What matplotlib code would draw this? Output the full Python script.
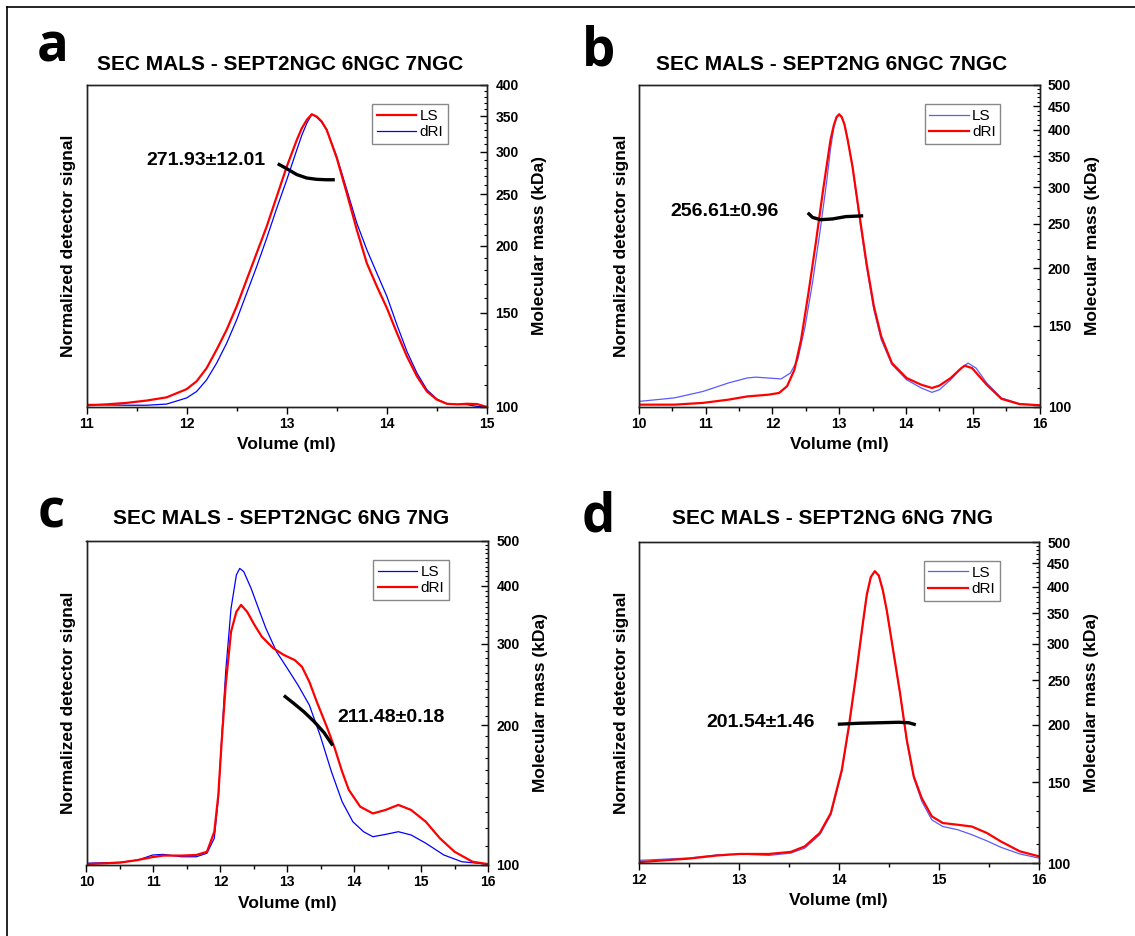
import numpy as np
import matplotlib
matplotlib.use("Agg")
from matplotlib import pyplot as plt
from matplotlib.lines import Line2D
from matplotlib.ticker import FixedLocator, NullFormatter

plt.rcParams['font.family'] = ['Liberation Sans', 'DejaVu Sans']

# -----------------------------------------------------------#
# SEC-MALS traces (normalized detector signal vs volume)
# -----------------------------------------------------------#

# a) SEPT2NGC 6NGC 7NGC
a_vol = [11.0, 11.2, 11.4, 11.6, 11.8, 12.0, 12.1, 12.2, 12.3, 12.4, 12.5, 12.6, 12.7,
         12.8, 12.9, 13.0, 13.1, 13.15, 13.2, 13.25, 13.3, 13.35, 13.4, 13.5, 13.6, 13.7, 13.8,
         13.9, 14.0, 14.1, 14.2, 14.3, 14.4, 14.5, 14.6, 14.7, 14.8, 14.9, 15.0]
a_ls = [0.006, 0.009, 0.014, 0.022, 0.033, 0.061, 0.088, 0.133, 0.196, 0.264, 0.344, 0.435, 0.526,
        0.617, 0.719, 0.821, 0.912, 0.952, 0.981, 1.0, 0.992, 0.975, 0.946, 0.850, 0.730, 0.605,
        0.491, 0.412, 0.338, 0.253, 0.173, 0.105, 0.053, 0.025, 0.011, 0.009, 0.011, 0.010, 0.0]
a_dri = [0.009, 0.007, 0.006, 0.006, 0.010, 0.031, 0.053, 0.093, 0.150, 0.218, 0.298, 0.389, 0.480,
         0.577, 0.679, 0.776, 0.878, 0.928, 0.969, 1.0, 0.990, 0.972, 0.946, 0.855, 0.742, 0.628,
         0.537, 0.457, 0.378, 0.281, 0.190, 0.116, 0.059, 0.027, 0.011, 0.009, 0.008, 0.002, 0.0]
a_mass_vol = [12.91, 13.0, 13.1, 13.2, 13.3, 13.4, 13.48]
a_mass = [285, 279, 272, 268, 266.5, 266, 266]

# b) SEPT2NG 6NGC 7NGC
b_ls_vol = [10.0, 10.53, 10.96, 11.34, 11.62, 11.75, 11.94, 12.13, 12.27, 12.38, 12.49, 12.6,
            12.71, 12.81, 12.87, 12.92, 12.96, 13.0, 13.04, 13.08, 13.13, 13.2, 13.3, 13.41,
            13.52, 13.63, 13.79, 14.01, 14.23, 14.39, 14.5, 14.67, 14.83, 14.93, 15.05, 15.21,
            15.43, 15.7, 16.0]
b_ls = [0.019, 0.031, 0.053, 0.082, 0.099, 0.102, 0.099, 0.096, 0.116, 0.162, 0.275, 0.423,
        0.594, 0.764, 0.880, 0.955, 0.988, 1.0, 0.99, 0.965, 0.91, 0.821, 0.651, 0.480,
        0.332, 0.230, 0.145, 0.093, 0.065, 0.050, 0.059, 0.093, 0.133, 0.150, 0.133, 0.082,
        0.031, 0.011, 0.006]
b_dri_vol = [10.0, 10.53, 10.96, 11.34, 11.62, 11.94, 12.1, 12.22, 12.33, 12.43, 12.54, 12.65,
             12.76, 12.87, 12.92, 12.96, 13.0, 13.04, 13.08, 13.13, 13.2, 13.3, 13.41, 13.52,
             13.63, 13.79, 14.01, 14.23, 14.39, 14.5, 14.67, 14.83, 14.88, 14.99, 15.21, 15.43,
             15.7, 16.0]
b_dri = [0.008, 0.008, 0.014, 0.025, 0.036, 0.042, 0.048, 0.071, 0.127, 0.230, 0.389, 0.560,
         0.742, 0.912, 0.962, 0.990, 1.0, 0.99, 0.965, 0.91, 0.821, 0.662, 0.491, 0.344,
         0.241, 0.150, 0.099, 0.076, 0.065, 0.073, 0.099, 0.133, 0.141, 0.133, 0.076, 0.028,
         0.010, 0.006]
b_mass_vol = [12.53, 12.6, 12.72, 12.9, 13.1, 13.36]
b_mass = [264, 258, 255, 256, 259, 260]

# c) SEPT2NGC 6NG 7NG
c_ls_vol = [10.0, 10.5, 10.77, 10.99, 11.15, 11.42, 11.64, 11.8, 11.91, 11.97, 12.02, 12.08,
            12.16, 12.24, 12.29, 12.35, 12.46, 12.57, 12.68, 12.84, 13.0, 13.16, 13.33, 13.49,
            13.66, 13.82, 13.98, 14.14, 14.28, 14.47, 14.66, 14.85, 15.07, 15.34, 15.61, 16.0]
c_ls = [0.006, 0.009, 0.017, 0.034, 0.036, 0.028, 0.028, 0.040, 0.091, 0.226, 0.430, 0.656,
        0.871, 0.985, 1.007, 0.996, 0.939, 0.871, 0.804, 0.724, 0.668, 0.611, 0.543, 0.441,
        0.317, 0.215, 0.147, 0.113, 0.096, 0.104, 0.113, 0.102, 0.074, 0.034, 0.011, 0.003]
c_dri_vol = [10.0, 10.5, 10.77, 10.99, 11.15, 11.42, 11.64, 11.8, 11.91, 11.97, 12.02, 12.08,
             12.16, 12.24, 12.31, 12.4, 12.51, 12.62, 12.79, 12.95, 13.11, 13.22, 13.33, 13.44,
             13.6, 13.71, 13.82, 13.92, 14.09, 14.28, 14.47, 14.66, 14.85, 15.07, 15.28, 15.5,
             15.77, 16.0]
c_dri = [0.003, 0.008, 0.017, 0.027, 0.032, 0.032, 0.034, 0.045, 0.113, 0.238, 0.419, 0.611,
         0.792, 0.860, 0.883, 0.860, 0.815, 0.775, 0.736, 0.713, 0.696, 0.673, 0.622, 0.555,
         0.464, 0.396, 0.317, 0.255, 0.198, 0.175, 0.187, 0.204, 0.187, 0.147, 0.091, 0.045,
         0.011, 0.003]
c_mass_vol = [12.95, 13.1, 13.25, 13.4, 13.55, 13.68]
c_mass = [232, 223, 214, 204, 193, 181]

# d) SEPT2NG 6NG 7NG
d_vol = [12.0, 12.5, 12.79, 13.01, 13.3, 13.52, 13.66, 13.81, 13.92, 14.03, 14.1, 14.17, 14.24,
         14.28, 14.32, 14.36, 14.40, 14.44, 14.48, 14.53, 14.61, 14.68, 14.75, 14.83, 14.93,
         15.04, 15.19, 15.33, 15.48, 15.62, 15.81, 16.0]
d_ls = [0.009, 0.017, 0.028, 0.031, 0.026, 0.034, 0.051, 0.097, 0.165, 0.313, 0.462, 0.633, 0.815,
        0.915, 0.978, 1.0, 0.985, 0.935, 0.865, 0.758, 0.587, 0.416, 0.291, 0.211, 0.148,
        0.125, 0.114, 0.097, 0.076, 0.054, 0.031, 0.017]
d_dri = [0.003, 0.015, 0.026, 0.031, 0.031, 0.038, 0.057, 0.103, 0.171, 0.319, 0.467, 0.638, 0.821,
         0.920, 0.980, 1.0, 0.985, 0.935, 0.865, 0.758, 0.587, 0.422, 0.296, 0.222, 0.160,
         0.137, 0.131, 0.125, 0.103, 0.074, 0.040, 0.023]
d_mass_vol = [13.99, 14.2, 14.4, 14.6, 14.7, 14.77]
d_mass = [200.5, 201.5, 202, 202.5, 202, 200]

RED = "#ff0000"
BLUE = "#0000ff"
LIGHTBLUE = "#5a5aff"


def panel(rect, letter, letter_xy, title, title_xy, xlim, xticks, mmax, mticks,
          traces, mass_vol, mass, mass_text, text_xy, text_ha):
    ax = fig.add_axes(rect)
    for vol, sig, color, lw, lab in traces:
        ax.plot(vol, sig, color=color, linewidth=lw, label=lab, solid_joinstyle='round')
    ax.set_xlim(xlim)
    ax.set_ylim(0, 1.1)
    ax.set_xticks(xticks)
    ax.set_xticks(np.arange(xlim[0] + 0.5, xlim[1], 1.0), minor=True)
    ax.set_yticks([])
    ax.tick_params(axis='x', which='major', direction='out', length=5, width=1, labelsize=10, pad=2)
    ax.tick_params(axis='x', which='minor', direction='out', length=3, width=1)
    for lbl in ax.get_xticklabels():
        lbl.set_fontweight('bold')
    ax.set_xlabel("Volume (ml)", fontsize=12.5, fontweight='bold', va='center')
    ax.xaxis.set_label_coords(0.5, -0.118)
    ax.set_ylabel("Normalized detector signal", fontsize=12.5, fontweight='bold', va='center')
    ax.yaxis.set_label_coords(-0.044, 0.5)
    for sp in ax.spines.values():
        sp.set_linewidth(1.0)
        sp.set_color("#222222")

    # handles in legend order: LS first
    handles, labels = ax.get_legend_handles_labels()
    order = [labels.index("LS"), labels.index("dRI")]
    leg = ax.legend([handles[i] for i in order], [labels[i] for i in order],
                    loc='upper right', bbox_to_anchor=(0.902, 0.94), fontsize=11,
                    fancybox=False, framealpha=1, edgecolor="#888888",
                    handlelength=2.6, handletextpad=0.2, borderpad=0.3, labelspacing=0.15,
                    borderaxespad=0)
    leg.get_frame().set_linewidth(1.0)

    # molecular mass on a log axis
    ax2 = ax.twinx()
    ax2.set_yscale('log')
    ax2.set_ylim(100, mmax)
    ax2.plot(mass_vol, mass, color='black', linewidth=2.4, solid_capstyle='butt',
             solid_joinstyle='round')
    ax2.yaxis.set_major_locator(FixedLocator(mticks))
    ax2.yaxis.set_minor_locator(FixedLocator(np.arange(100, mmax + 1, 10)))
    ax2.yaxis.set_minor_formatter(NullFormatter())
    ax2.set_yticklabels([str(t) for t in mticks], fontweight='bold', fontsize=10)
    ax2.tick_params(axis='y', which='major', direction='in', length=5, width=1, pad=6)
    ax2.tick_params(axis='y', which='minor', direction='in', length=2.5, width=0.8)
    ax2.set_ylabel("Molecular mass (kDa)", fontsize=12.5, fontweight='bold', va='center')
    ax2.yaxis.set_label_coords(1.132, 0.5)
    for sp in ax2.spines.values():
        sp.set_linewidth(1.0)
        sp.set_color("#222222")
    ax2.text(text_xy[0], text_xy[1], mass_text, transform=ax.transAxes, ha=text_ha,
             va='center', fontsize=14, fontweight='bold')

    fig.text(title_xy[0], title_xy[1], title, ha='center', va='center',
             fontsize=15, fontweight='bold')
    fig.text(letter_xy[0], letter_xy[1], letter, ha='left', va='baseline',
             fontsize=38, fontweight='bold', family=['Open Sans', 'DejaVu Sans'])
    return ax


fig = plt.figure(figsize=(11.35, 9.36), dpi=100)
W, H = 1135.0, 936.0

panel([86.5 / W, 1 - 407 / H, 400.5 / W, 322 / H], "a", (37 / W, 1 - 62 / H),
      "SEC MALS - SEPT2NGC 6NGC 7NGC", (280.5 / W, 1 - 64 / H),
      (11, 15), [11, 12, 13, 14, 15], 400, [100, 150, 200, 250, 300, 350, 400],
      [(a_vol, a_dri, BLUE, 0.9, "dRI"), (a_vol, a_ls, RED, 1.6, "LS")],
      a_mass_vol, a_mass, "271.93\u00b112.01", (0.446, 0.767), 'right')

panel([638.8 / W, 1 - 407 / H, 400.7 / W, 322 / H], "b", (582 / W, 1 - 66 / H),
      "SEC MALS - SEPT2NG 6NGC 7NGC", (832 / W, 1 - 64 / H),
      (10, 16), [10, 11, 12, 13, 14, 15, 16], 500,
      [100, 150, 200, 250, 300, 350, 400, 450, 500],
      [(b_ls_vol, b_ls, LIGHTBLUE, 0.9, "LS"), (b_dri_vol, b_dri, RED, 1.6, "dRI")],
      b_mass_vol, b_mass, "256.61\u00b10.96", (0.078, 0.606), 'left')

panel([86.5 / W, 1 - 865 / H, 401.5 / W, 324 / H], "c", (38 / W, 1 - 528 / H),
      "SEC MALS - SEPT2NGC 6NG 7NG", (281 / W, 1 - 519 / H),
      (10, 16), [10, 11, 12, 13, 14, 15, 16], 500, [100, 200, 300, 400, 500],
      [(c_ls_vol, c_ls, BLUE, 0.9, "LS"), (c_dri_vol, c_dri, RED, 1.6, "dRI")],
      c_mass_vol, c_mass, "211.48\u00b10.18", (0.624, 0.454), 'left')

panel([638.8 / W, 1 - 863 / H, 400 / W, 321 / H], "d", (582 / W, 1 - 532 / H),
      "SEC MALS - SEPT2NG 6NG 7NG", (832 / W, 1 - 519 / H),
      (12, 16), [12, 13, 14, 15, 16], 500,
      [100, 150, 200, 250, 300, 350, 400, 450, 500],
      [(d_vol, d_ls, LIGHTBLUE, 0.9, "LS"), (d_vol, d_dri, RED, 1.6, "dRI")],
      d_mass_vol, d_mass, "201.54\u00b11.46", (0.168, 0.439), 'left')

# outer frame (top and left edge only)
fig.add_artist(Line2D([7 / W, 1.0], [1 - 7 / H, 1 - 7 / H], color='black', linewidth=1.2))
fig.add_artist(Line2D([7 / W, 7 / W], [0.0, 1 - 7 / H], color='black', linewidth=1.2))

fig.savefig("out.png", dpi=100)
